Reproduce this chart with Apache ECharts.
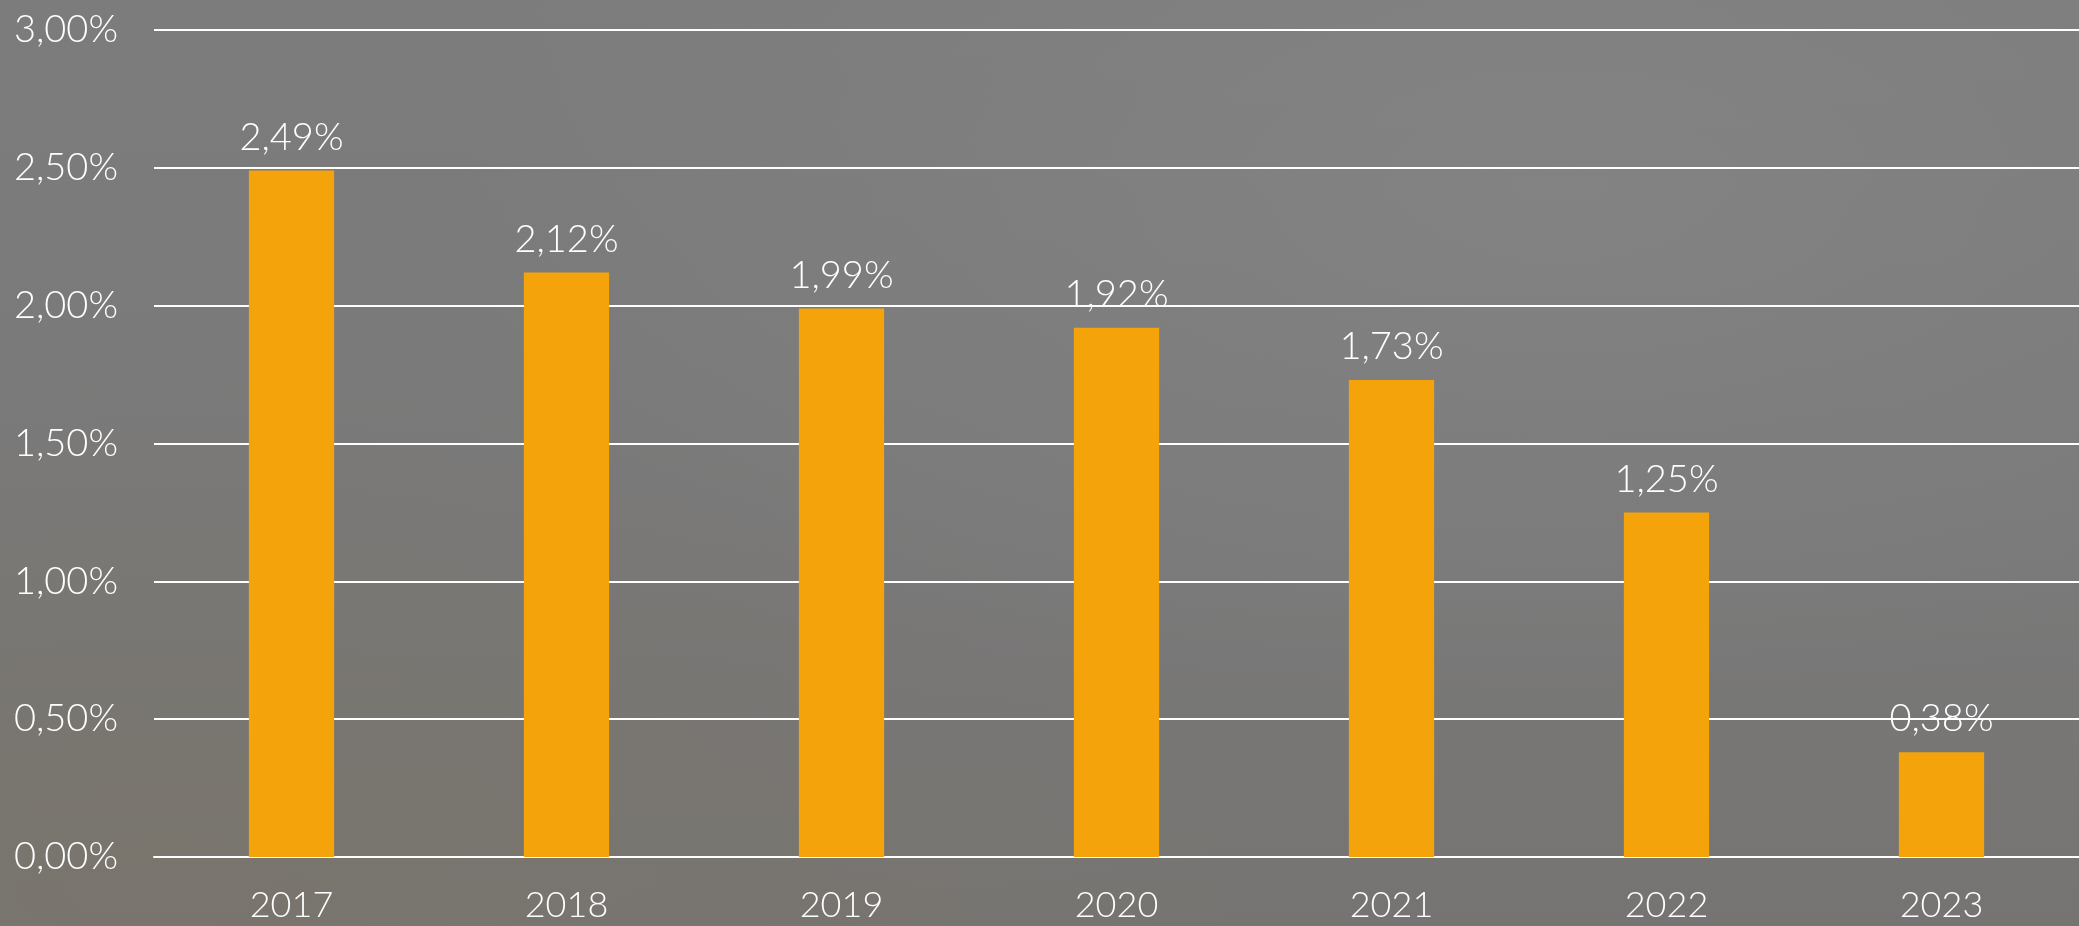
<!DOCTYPE html>
<html>
<head>
<meta charset="utf-8">
<script src="https://cdn.jsdelivr.net/npm/echarts@6/dist/echarts.min.js"></script>
<style>
  html, body { margin: 0; padding: 0; }
  body {
    width: 2079px; height: 926px; overflow: hidden;
    background:
      radial-gradient(ellipse at 8% 95%, rgba(122,117,108,0.8) 0%, rgba(122,117,108,0) 40%),
      radial-gradient(ellipse at 75% 20%, rgba(138,138,138,0.5) 0%, rgba(138,138,138,0) 50%),
      linear-gradient(180deg, #7c7c7c 0%, #797979 60%, #767472 100%);
  }
  #main { width: 2079px; height: 926px; }
</style>
</head>
<body>
<div id="main"></div>
<script>
// data
var years = ['2017', '2018', '2019', '2020', '2021', '2022', '2023'];
var rates = [2.49, 2.12, 1.99, 1.92, 1.73, 1.25, 0.38];

function pct(v) {
    return v.toFixed(2).replace('.', ',') + '%';
}

var chart = echarts.init(document.getElementById('main'));
var font = 'Lato, "Noto Sans", sans-serif';

var option = {
    backgroundColor: 'transparent',
    grid: { left: 154, right: 0, top: 30, bottom: 69 },
    xAxis: {
        type: 'category',
        data: years,
        axisLine: { show: true, lineStyle: { color: '#ffffff', width: 2 } },
        axisTick: { show: false },
        axisLabel: { color: '#ffffff', fontSize: 36, fontFamily: font, fontWeight: 300, margin: 30 }
    },
    yAxis: {
        type: 'value',
        min: 0,
        max: 3,
        interval: 0.5,
        axisLine: { show: false },
        axisTick: { show: false },
        splitLine: { lineStyle: { color: '#ffffff', width: 2 } },
        axisLabel: {
            color: '#ffffff', fontSize: 38, fontFamily: font, fontWeight: 300, margin: 36,
            formatter: function (v) { return pct(v); }
        }
    },
    series: [{
        type: 'bar',
        data: rates,
        barWidth: '31%',
        itemStyle: { color: '#F4A40A' },
        label: {
            show: true,
            position: 'top',
            distance: 14,
            color: '#ffffff',
            fontSize: 38,
            fontFamily: font,
            fontWeight: 300,
            formatter: function (p) { return pct(p.value); }
        }
    }]
};

chart.setOption(option);
</script>
</body>
</html>
